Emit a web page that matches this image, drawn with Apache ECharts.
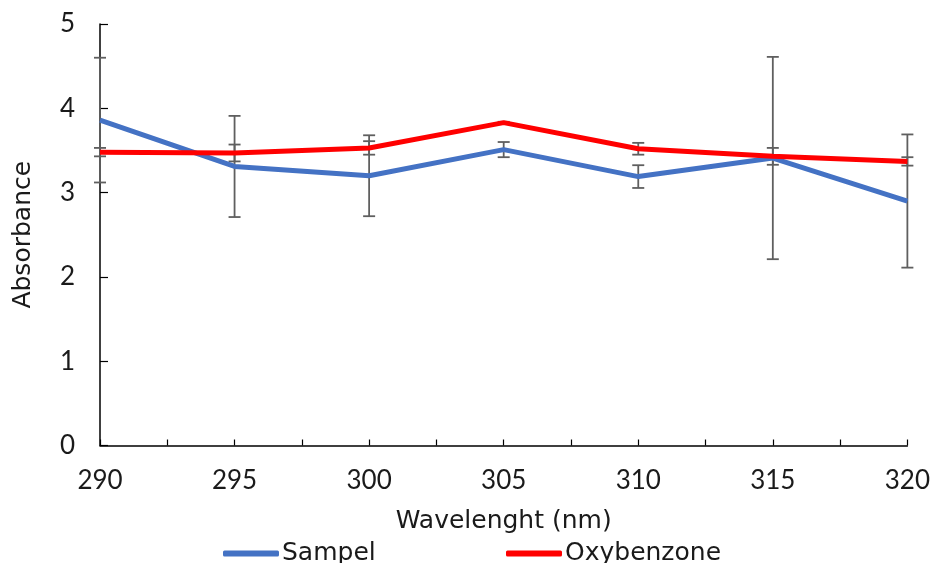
<!DOCTYPE html>
<html><head><meta charset="utf-8">
<script src="https://cdn.jsdelivr.net/npm/echarts@6/dist/echarts.min.js"></script>
<style>html,body{margin:0;padding:0;background:#fff}#c{width:933px;height:563px}</style>
</head><body><div id="c"></div>
<script>
const wavelengths = [290, 295, 300, 305, 310, 315, 320];
const sampel = [3.86, 3.31, 3.20, 3.51, 3.19, 3.41, 2.90];
const sampelErr = [0.74, 0.60, 0.48, 0.09, 0.135, 1.20, 0.79];
const oxybenzone = [3.48, 3.47, 3.53, 3.83, 3.52, 3.43, 3.37];
const oxybenzoneErr = [0.05, 0.10, 0.08, 0.01, 0.07, 0.10, 0.05];

const FONT = '"DejaVu Sans", sans-serif';
const NUMFONT = 'Lato, "DejaVu Sans", sans-serif';
const TXT = '#1a1a1a';
const chart = echarts.init(document.getElementById('c'));

function errData(vals, errs) {
  return wavelengths.map((x, i) => [x, vals[i] - errs[i], vals[i] + errs[i]]);
}
function errRender(params, api) {
  const x = api.value(0);
  const lo = api.coord([x, api.value(1)]);
  const hi = api.coord([x, api.value(2)]);
  const w = 6;
  const st = { stroke: '#5f5f5f', lineWidth: 1.8 };
  return { type: 'group', children: [
    { type: 'line', shape: { x1: lo[0], y1: lo[1], x2: hi[0], y2: hi[1] }, style: st },
    { type: 'line', shape: { x1: lo[0] - w, y1: lo[1], x2: lo[0] + w, y2: lo[1] }, style: st },
    { type: 'line', shape: { x1: hi[0] - w, y1: hi[1], x2: hi[0] + w, y2: hi[1] }, style: st }
  ]};
}

const legendCommon = {
  top: 536, orient: 'horizontal',
  icon: 'roundRect', itemWidth: 56, itemHeight: 6,
  textStyle: { fontFamily: FONT, fontSize: 25, color: TXT, padding: [0, 0, 0, -2] }
};

chart.setOption({
  animation: false,
  grid: { left: 100, right: 25, top: 24, bottom: 117.5 },
  xAxis: {
    type: 'value', min: 290, max: 320, interval: 2.5,
    name: 'Wavelenght (nm)', nameLocation: 'middle', nameGap: 63,
    nameTextStyle: { fontFamily: FONT, fontSize: 25, color: TXT },
    axisLine: { lineStyle: { color: '#000', width: 1.5 } },
    axisTick: { inside: true, length: 6, lineStyle: { color: '#000', width: 1.2 } },
    axisLabel: { margin: 22, fontFamily: NUMFONT, fontSize: 26, color: TXT,
      formatter: v => (v % 5 === 0 ? String(v) : '') },
    splitLine: { show: false }
  },
  yAxis: {
    type: 'value', min: 0, max: 5, interval: 1,
    name: 'Absorbance', nameLocation: 'middle', nameGap: 64,
    nameTextStyle: { fontFamily: FONT, fontSize: 25, color: TXT },
    axisLine: { show: true, lineStyle: { color: '#000', width: 1.5 } },
    axisTick: { show: true, inside: true, length: 8, lineStyle: { color: '#000', width: 1.2 } },
    axisLabel: { margin: 25, fontFamily: NUMFONT, fontSize: 26, color: TXT },
    splitLine: { show: false }
  },
  legend: [
    Object.assign({ left: 218, data: ['Sampel'] }, legendCommon),
    Object.assign({ left: 501, data: ['Oxybenzone'] }, legendCommon)
  ],
  series: [
    { name: 'SampelErr', type: 'custom', renderItem: errRender, data: errData(sampel, sampelErr), z: 1, silent: true },
    { name: 'OxyErr', type: 'custom', renderItem: errRender, data: errData(oxybenzone, oxybenzoneErr), z: 1, silent: true },
    { name: 'Sampel', type: 'line', data: wavelengths.map((x, i) => [x, sampel[i]]),
      showSymbol: false, symbol: 'none', lineStyle: { color: '#4472C4', width: 5 }, itemStyle: { color: '#4472C4' }, z: 2 },
    { name: 'Oxybenzone', type: 'line', data: wavelengths.map((x, i) => [x, oxybenzone[i]]),
      showSymbol: false, symbol: 'none', lineStyle: { color: '#FF0000', width: 5 }, itemStyle: { color: '#FF0000' }, z: 3 }
  ]
});
</script></body></html>
